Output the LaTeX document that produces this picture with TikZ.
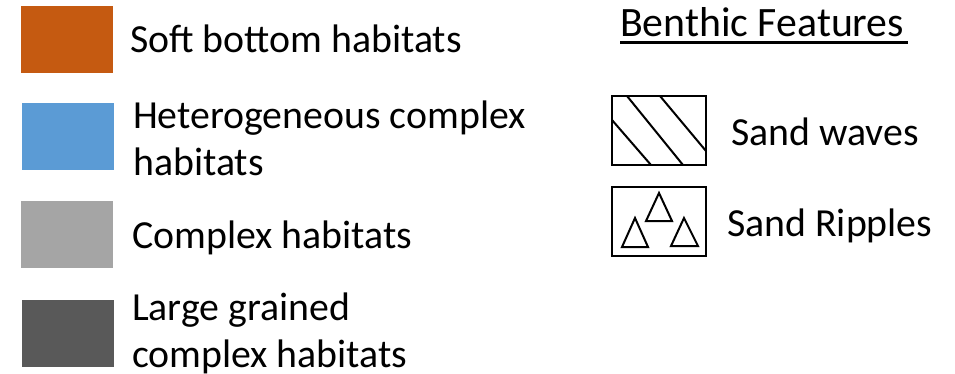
\documentclass[tikz,border=0pt]{standalone}
\usepackage{fontspec}
\setmainfont{Carlito}
\definecolor{soft}{HTML}{C55A11}
\definecolor{hetero}{HTML}{5B9BD5}
\definecolor{cplx}{HTML}{A5A5A5}
\definecolor{large}{HTML}{595959}
\begin{document}
\begin{tikzpicture}[x=1pt,y=-1pt,
  lbl/.style={anchor=base west,inner sep=0pt,font=\fontsize{39.8}{47}\selectfont,align=left},
  head/.style={anchor=base west,inner sep=0pt,font=\fontsize{41.8}{50}\selectfont},
  feat/.style={draw=black,line width=2pt},
  fline/.style={line width=2pt}]
\useasboundingbox (0,0) rectangle (955,373);
% swatches
\fill[soft] (21,6) rectangle (113,73);
\fill[hetero] (22,103) rectangle (114,170);
\fill[cplx] (21,201) rectangle (113,268);
\fill[large] (22,300) rectangle (114,367);
% labels
\node[lbl] (t1) at (130,52) {Soft bottom habitats};
\node[lbl] (t2a) at (133,128) {Heterogeneous complex};
\node[lbl] (t2b) at (133,175) {habitats};
\node[lbl] (t3) at (132,248) {Complex habitats};
\node[lbl] (t4a) at (132,320) {Large grained};
\node[lbl] (t4b) at (132,367) {complex habitats};
% benthic features
\node[head] (bf) at (620,36) {Benthic Features};
\draw[line width=2.6pt] (620,42.7) -- (908,42.7);
% sand waves
\draw[feat] (612,96) rectangle (706,165);
\draw[fline] (612,120) -- (651,165);
\draw[fline] (627,96) -- (683,165);
\draw[fline] (660,96) -- (706,151);
\node[lbl] (sw) at (731,145) {Sand waves};
% sand ripples
\draw[feat] (612,187) rectangle (706,256);
\draw[fline,line join=miter] (659,193) -- (672,221) -- (646,221) -- cycle;
\draw[fline,line join=miter] (635,218) -- (648,247) -- (622,247) -- cycle;
\draw[fline,line join=miter] (684,218) -- (698,246) -- (671,246) -- cycle;
\node[lbl] (sr) at (727,236) {Sand Ripples};
\end{tikzpicture}
\end{document}
